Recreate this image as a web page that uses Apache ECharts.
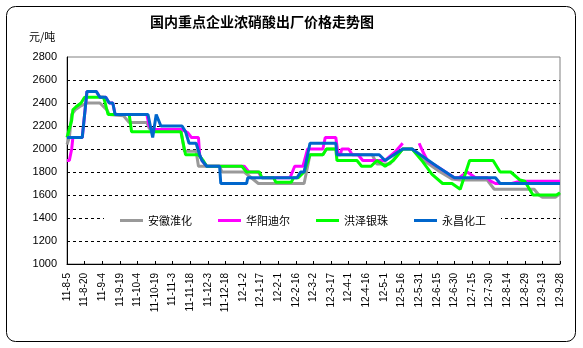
<!DOCTYPE html>
<html>
<head>
<meta charset="utf-8">
<script src="https://cdn.jsdelivr.net/npm/echarts@6/dist/echarts.min.js"></script>
<style>
html, body { margin: 0; padding: 0; background: #fff; }
#chart { width: 583px; height: 348px; }
</style>
</head>
<body>
<div id="chart"></div>
<script>
// Ex-works price of concentrated nitric acid, 元/吨.
// Each point: [days since 2011-08-05, price]; null marks a gap in the quotes.
const tickLabels = ['11-8-5', '11-8-20', '11-9-4', '11-9-19', '11-10-4', '11-10-19', '11-11-3', '11-11-18',
  '11-12-3', '11-12-18', '12-1-2', '12-1-17', '12-2-1', '12-2-16', '12-3-2', '12-3-17', '12-4-1', '12-4-16',
  '12-5-1', '12-5-16', '12-5-31', '12-6-15', '12-6-30', '12-7-15', '12-7-30', '12-8-14', '12-8-29',
  '12-9-13', '12-9-28'];

const seriesNames = ['安徽淮化', '华阳迪尔', '洪泽银珠', '永昌化工'];

const anhui = [[0, 2040], [2, 2100], [4, 2300], [7, 2340], [11, 2370], [17, 2400], [28, 2400], [34, 2340],
  [36, 2300], [48, 2290], [53, 2230], [68, 2230], [70, 2180], [72, 2170], [97, 2170], [100, 1980], [110, 1980],
  [112, 1850], [130, 1850], [132, 1800], [151, 1800], [157, 1750], [163, 1700], [202, 1700], [204, 1800],
  [207, 1950], [218, 1950], [221, 2000], [229, 2000], [231, 1950], [260, 1950], [264, 1870], [275, 1870],
  [286, 2000], [294, 2000], [304, 1900], [318, 1800], [328, 1740], [335, 1730], [358, 1730], [364, 1650],
  [398, 1650], [402, 1600], [405, 1580], [416, 1580], [420, 1610]];

const huayang = [[0, 1900], [2, 1900], [4, 2000], [5, 2100], [13, 2100], [17, 2500], [25, 2500], [28, 2450],
  [33, 2450], [36, 2400], [39, 2400], [41, 2300], [68, 2300], [70, 2200], [73, 2170], [98, 2170], [103, 2140],
  [106, 2100], [112, 2100], [113, 1950], [115, 1900], [119, 1850], [151, 1850], [155, 1800], [163, 1800],
  [166, 1750], [190, 1750], [194, 1850], [201, 1850], [205, 2000], [218, 2000], [220, 2100], [229, 2100],
  [231, 1950], [233, 1950], [234, 2000], [240, 2000], [243, 1950], [248, 1950], [252, 1900], [271, 1900],
  [280, 1980], [286, 2050], [293, null], [300, 2050], [303, 1980], [307, 1900], [315, 1850], [330, 1750],
  [334, 1750], [341, 1800], [348, 1750], [358, 1750], [361, 1720], [365, 1700], [379, 1700], [386, 1720],
  [420, 1720]];

const hongze = [[0, 2100], [4, 2250], [5, 2340], [8, 2370], [12, 2400], [15, 2450], [31, 2450], [32, 2420],
  [35, 2300], [53, 2300], [55, 2150], [97, 2150], [101, 1950], [112, 1950], [116, 1900], [119, 1850],
  [149, 1850], [153, 1800], [164, 1800], [166, 1750], [176, 1750], [178, 1710], [191, 1710], [193, 1750],
  [197, 1750], [202, 1800], [207, 1950], [218, 1950], [221, 2000], [229, 2000], [230, 1900], [247, 1900],
  [251, 1850], [259, 1850], [264, 1900], [267, 1880], [271, 1850], [278, 1900], [286, 2000], [294, 2000],
  [303, 1890], [311, 1780], [320, 1700], [328, 1700], [335, 1650], [343, 1900], [363, 1900], [369, 1800],
  [378, 1800], [386, 1730], [390, 1720], [397, 1600], [417, 1600], [420, 1620]];

const yongchang = [[0, 2100], [13, 2100], [17, 2500], [25, 2500], [28, 2450], [33, 2450], [36, 2400],
  [39, 2400], [41, 2300], [69, 2300], [73, 2100], [76, 2300], [80, 2200], [98, 2200], [101, 2150],
  [104, 2050], [110, 2050], [113, 1950], [115, 1900], [119, 1850], [130, 1850], [131, 1700], [153, 1700],
  [154, 1750], [196, 1750], [199, 1800], [202, 1800], [207, 2050], [229, 2050], [230, 1950], [266, 1950],
  [271, 1900], [286, 2000], [294, 2000], [315, 1850], [330, 1750], [365, 1750], [369, 1700], [420, 1700]];

const seriesData = [anhui, huayang, hongze, yongchang];
const seriesColors = ['#999999', '#ff00ff', '#00ff00', '#0066cc'];

const labelFont = '"Liberation Sans", Arial, sans-serif';
const cjkFont = '"Noto Sans CJK SC", "Noto Sans", sans-serif';

const chart = echarts.init(document.getElementById('chart'), null, { renderer: 'canvas' });

chart.setOption({
  animation: false,
  backgroundColor: '#ffffff',
  title: {
    text: '国内重点企业浓硝酸出厂价格走势图',
    left: 150,
    top: 15,
    padding: 0,
    textStyle: { fontFamily: cjkFont, fontSize: 14, fontWeight: 'bold', color: '#000' }
  },
  graphic: [
    {
      type: 'rect',
      shape: { x: 6.5, y: 6.5, width: 569, height: 335, r: 9 },
      style: { fill: 'none', stroke: '#000', lineWidth: 1 },
      silent: true
    },
    {
      type: 'text',
      left: 29,
      top: 31,
      style: { text: '元/吨', fontFamily: cjkFont, fontSize: 11, fill: '#000' }
    }
  ],
  legend: {
    data: seriesNames,
    left: 104,
    top: 207,
    padding: [8, 15, 8, 16],
    backgroundColor: '#ffffff',
    icon: 'rect',
    itemWidth: 23,
    itemHeight: 3,
    itemGap: 26,
    textStyle: { fontFamily: cjkFont, fontSize: 11, color: '#000' }
  },
  grid: {
    left: 67,
    top: 57,
    width: 493,
    height: 207,
    containLabel: false,
    outerBoundsMode: 'none',
    show: true,
    borderColor: '#808080',
    borderWidth: 1,
    backgroundColor: 'transparent'
  },
  xAxis: {
    type: 'value',
    min: 0,
    max: 420,
    interval: 15,
    axisLine: { show: true, lineStyle: { color: '#000', width: 1 } },
    axisTick: { show: true, inside: true, length: 3, lineStyle: { color: '#000' } },
    splitLine: { show: false },
    axisLabel: {
      rotate: 90,
      margin: 9,
      fontFamily: labelFont,
      fontSize: 10,
      color: '#000',
      formatter: function (v) { return tickLabels[Math.round(v / 15)]; }
    }
  },
  yAxis: {
    type: 'value',
    min: 1000,
    max: 2800,
    interval: 200,
    axisLine: { show: true, lineStyle: { color: '#000', width: 1 } },
    axisTick: { show: false },
    axisLabel: {
      margin: 10,
      fontFamily: labelFont,
      fontSize: 11,
      color: '#000',
      formatter: function (v) { return String(v); }
    },
    splitLine: {
      show: true,
      showMinLine: false,
      showMaxLine: false,
      lineStyle: { color: '#000', width: 1, type: [3, 3] }
    }
  },
  series: seriesNames.map(function (name, i) {
    return {
      name: name,
      type: 'line',
      data: seriesData[i],
      showSymbol: false,
      symbol: 'none',
      connectNulls: false,
      color: seriesColors[i],
      lineStyle: { color: seriesColors[i], width: 3 },
      emphasis: { disabled: true },
      z: 2 + i
    };
  })
});
</script>
</body>
</html>
